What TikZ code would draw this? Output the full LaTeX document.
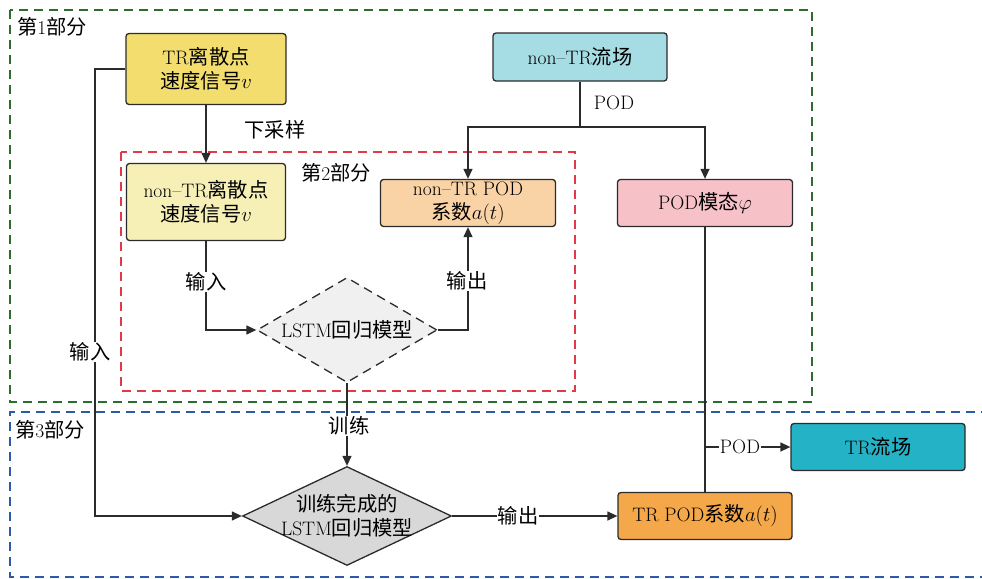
\documentclass[tikz,border=0pt]{standalone}
\usepackage{fontspec}
\newfontfamily\cjk{Noto Sans CJK SC}[Scale=1.04]
\newcommand\zh[1]{{\cjk #1}}
\newcommand\lbfont{\fontsize{19.5}{24}\selectfont}
\usetikzlibrary{shapes.geometric,arrows.meta}
\definecolor{edge}{HTML}{2B2B2B}
\definecolor{trY}{HTML}{F2DD6E}
\definecolor{ntrY}{HTML}{F7F0B6}
\definecolor{flowC}{HTML}{A6DCE4}
\definecolor{peach}{HTML}{F9D3A5}
\definecolor{pink}{HTML}{F7C1C8}
\definecolor{teal}{HTML}{24B3C6}
\definecolor{orng}{HTML}{F5A849}
\definecolor{dmA}{HTML}{F0F0F0}
\definecolor{dmB}{HTML}{D8D8D8}
\definecolor{grn}{HTML}{2E6B30}
\definecolor{rd}{HTML}{E03A48}
\definecolor{blu}{HTML}{2A5BAA}
\begin{document}
\begin{tikzpicture}[x=1pt,y=-1pt,
  box/.style={draw=edge, line width=1.3pt, rounded corners=3pt, align=center,
    font=\lbfont, inner sep=0pt, text=black},
  dmd/.style={diamond, draw=edge, line width=1.3pt, inner sep=0pt},
  conn/.style={draw=edge, line width=1.3pt},
  arr/.style={conn, -{Triangle[length=10pt,width=9pt]}},
  lbl/.style={font=\lbfont, fill=white, inner sep=1pt},
  tag/.style={font=\lbfont, inner sep=0pt},
  frame/.style={line width=1.6pt, dash pattern=on 9pt off 6pt}]
\useasboundingbox (0,0) rectangle (982,578);

% dashed group frames
\draw[frame, grn] (10,10) rectangle (812,402);
\draw[frame, rd] (121,152) rectangle (575,391);
\draw[frame, blu] (990,412) -- (10,412) -- (10,577) -- (990,577);
\node[tag, anchor=west] (p1) at (17,27) {\zh{第}1\zh{部分}};
\node[tag] (p2) at (336,173) {\zh{第}2\zh{部分}};
\node[tag, anchor=west] (p3) at (15,430) {\zh{第}3\zh{部分}};

% boxes
\node[box, fill=trY, minimum width=160pt, minimum height=71pt] (tr) at (206,69)
  {TR\zh{离散点}\\\zh{速度信号}$v$};
\node[box, fill=ntrY, minimum width=159pt, minimum height=77pt] (ntr) at (206,202)
  {non--TR\zh{离散点}\\\zh{速度信号}$v$};
\node[box, fill=flowC, minimum width=174pt, minimum height=48pt] (flow) at (580,57)
  {non--TR\zh{流场}};
\node[box, fill=peach, minimum width=175pt, minimum height=47pt] (coef) at (468,203)
  {non--TR POD\\\zh{系数}$a(t)$};
\node[box, fill=pink, minimum width=175pt, minimum height=47pt] (mode) at (705,203)
  {POD\zh{模态}$\varphi$};
\node[box, fill=teal, minimum width=174pt, minimum height=47pt] (trflow) at (878,447)
  {TR\zh{流场}};
\node[box, fill=orng, minimum width=174pt, minimum height=47pt] (trcoef) at (705,516)
  {TR POD\zh{系数}$a(t)$};

% diamonds
\node[dmd, fill=dmA, dashed, dash pattern=on 9pt off 6pt,
  minimum width=180pt, minimum height=105pt,
  label={[font=\lbfont]center:LSTM\zh{回归模型}}] (lstm) at (347,330) {};
\node[dmd, fill=dmB, minimum width=209pt, minimum height=99pt,
  label={[font=\lbfont, align=center]center:\zh{训练完成的}\\LSTM\zh{回归模型}}] (lstmT) at (347,516) {};

% connectors
\coordinate (inL) at (95,0);
\coordinate (br) at (580,127);
\draw[arr] (tr.south) -- (ntr.north);
\node[tag] (ds) at (275,130) {\zh{下采样}};
\draw[arr] (tr.west) -- (tr.west -| inL) |- (lstmT.west);
\node[lbl] (in1) at (90,352) {\zh{输入}};
\draw[arr] (ntr.south) |- (lstm.west);
\node[lbl] (in2) at (206,282) {\zh{输入}};
\draw[arr] (lstm.east) -| (coef.south);
\node[lbl] (out1) at (467,281) {\zh{输出}};
\draw[conn] (flow.south) -- (br);
\draw[arr] (br) -| (coef.north);
\draw[arr] (br) -| (mode.north);
\node[tag] (pod1) at (614,103) {POD};
\draw[arr] (lstm.south) -- (lstmT.north);
\node[lbl] (trn) at (349,426) {\zh{训练}};
\draw[arr] (lstmT.east) -- (trcoef.west);
\node[lbl] (out2) at (518,516) {\zh{输出}};
\draw[conn] (mode.south) -- (trcoef.north);
\coordinate (jn) at (mode.south |- trflow.west);
\draw[arr] (jn) -- (trflow.west);
\node[lbl] (pod2) at (740,447) {POD};
\end{tikzpicture}
\end{document}
